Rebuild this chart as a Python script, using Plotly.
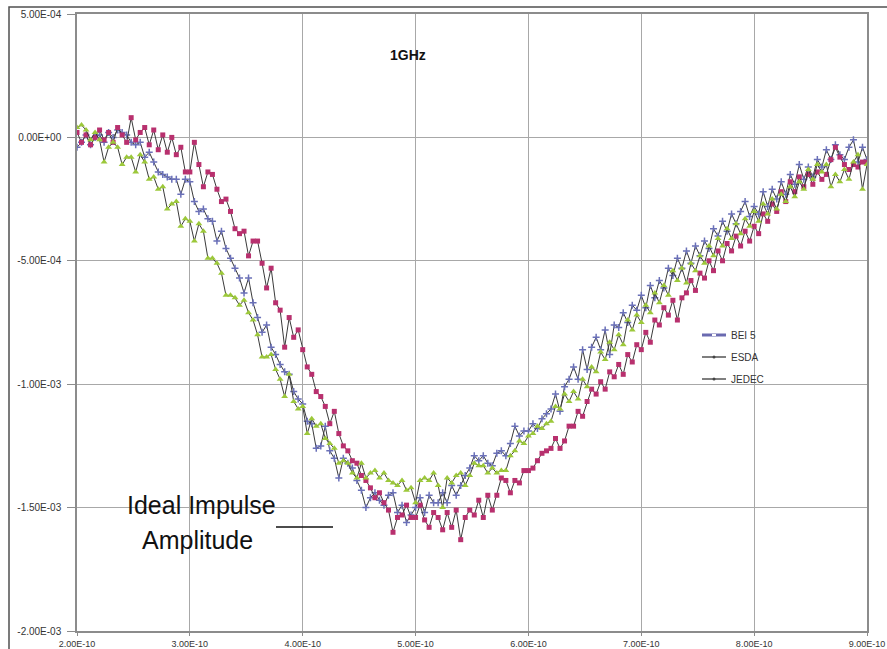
import plotly.graph_objects as go

# ---------------- data ----------------
# sample times in picoseconds (4 ps sampling, 200 ps .. 900 ps)
t_start_ps = 200
t_step_ps = 4
n_samples = 176
time_ps = [t_start_ps + t_step_ps * k for k in range(n_samples)]

# amplitudes in units of 1e-5
bei5 = [
    -4, -2, 1, -3, 0, 1, -2, 2, 0, 3,
    2, 1, -2, -3, -2, -8, -6, -10, -14, -15,
    -16, -17, -17, -23, -17, -18, -26, -30, -29, -33,
    -34, -42, -38, -45, -49, -53, -57, -63, -57, -67,
    -73, -79, -76, -85, -88, -92, -95, -96, -103, -106,
    -108, -115, -116, -126, -125, -117, -127, -130, -138, -130,
    -132, -134, -139, -143, -150, -146, -144, -147, -149, -145,
    -144, -152, -149, -156, -153, -150, -146, -152, -145, -148,
    -148, -144, -148, -141, -145, -141, -137, -134, -129, -131,
    -129, -132, -133, -128, -127, -129, -124, -117, -121, -119,
    -119, -116, -118, -114, -112, -110, -104, -111, -101, -98,
    -93, -98, -86, -94, -85, -81, -86, -78, -88, -76,
    -77, -71, -75, -68, -70, -64, -69, -60, -65, -58,
    -61, -53, -56, -49, -53, -46, -51, -44, -48, -42,
    -45, -37, -40, -34, -38, -31, -35, -30, -26, -32,
    -28, -31, -22, -28, -21, -25, -18, -23, -15, -19,
    -11, -17, -12, -16, -9, -12, -5, -9, -3, -7,
    -9, -4, -1, -10, -4, -9,
]

esda = [
    2, -2, 1, -3, 0, 3, -1, 2, -2, 4,
    1, -2, 8, -1, 2, 4, -3, 3, -5, 1,
    -6, 0, -7, -4, -14, -14, -2, -11, -20, -14,
    -15, -21, -26, -25, -30, -37, -39, -38, -48, -42,
    -42, -51, -61, -53, -67, -70, -85, -73, -81, -78,
    -86, -93, -96, -103, -105, -109, -116, -111, -120, -125,
    -127, -131, -132, -137, -139, -142, -146, -144, -148, -151,
    -160, -154, -153, -149, -154, -154, -149, -155, -158, -152,
    -154, -159, -152, -158, -151, -163, -154, -151, -153, -147,
    -154, -145, -151, -145, -138, -139, -144, -139, -140, -135,
    -135, -134, -131, -128, -127, -126, -122, -126, -123, -117,
    -117, -111, -113, -107, -102, -104, -99, -102, -95, -97,
    -92, -96, -88, -91, -84, -86, -79, -83, -74, -76,
    -69, -72, -66, -74, -65, -63, -58, -62, -55, -57,
    -50, -54, -46, -50, -43, -46, -40, -44, -38, -42,
    -36, -39, -31, -34, -27, -30, -22, -26, -18, -22,
    -16, -20, -15, -19, -14, -17, -15, -9, -4, -8,
    -11, -13, -11, -12, -10, -10,
]

jedec = [
    4, 5, 3, -1, 2, -1, -10, -4, -2, -4,
    -11, -8, -8, -14, -7, -10, -17, -16, -21, -20,
    -29, -27, -26, -36, -33, -34, -42, -35, -38, -49,
    -49, -51, -55, -64, -64, -65, -68, -66, -71, -74,
    -80, -89, -89, -88, -94, -98, -105, -96, -107, -110,
    -109, -120, -114, -117, -116, -122, -124, -126, -132, -131,
    -132, -136, -138, -132, -138, -136, -135, -138, -136, -139,
    -140, -141, -139, -143, -142, -148, -139, -138, -139, -136,
    -141, -150, -138, -140, -137, -136, -141, -137, -132, -133,
    -133, -136, -134, -136, -135, -135, -129, -127, -123, -124,
    -121, -120, -117, -118, -116, -115, -109, -110, -104, -107,
    -103, -106, -98, -101, -93, -95, -87, -90, -83, -86,
    -80, -84, -74, -78, -72, -75, -68, -71, -63, -67,
    -60, -64, -54, -58, -53, -59, -51, -54, -48, -51,
    -44, -48, -41, -44, -37, -41, -35, -39, -33, -36,
    -30, -34, -27, -31, -25, -29, -23, -26, -20, -24,
    -18, -21, -13, -17, -11, -14, -11, -20, -15, -18,
    -13, -17, -10, -7, -21, -11,
]

series_names = ["BEI 5", "ESDA", "JEDEC"]

x_tick_vals = [200, 300, 400, 500, 600, 700, 800, 900]
x_tick_text = ["2.00E-10", "3.00E-10", "4.00E-10", "5.00E-10",
               "6.00E-10", "7.00E-10", "8.00E-10", "9.00E-10"]
y_tick_vals = [50, 0, -50, -100, -150, -200]
y_tick_text = ["5.00E-04", "0.00E+00", "-5.00E-04", "-1.00E-03",
               "-1.50E-03", "-2.00E-03"]

title_text = "1GHz"
note_line1 = "Ideal Impulse"
note_line2 = "Amplitude"

# ---------------- layout geometry ----------------
W, H = 887, 649
ML, MR, MT, MB = 77, 20, 14, 18
PW = W - ML - MR
PH = H - MT - MB


def fx(px):
    return (px - ML) / PW


def fy(py):
    return (H - MB - py) / PH


LINE_COL = "#3a3a3a"
FONT = "Liberation Sans"

fig = go.Figure()

fig.add_trace(go.Scatter(
    x=time_ps, y=bei5, name=series_names[0], mode="lines+markers",
    line=dict(color=LINE_COL, width=1),
    marker=dict(symbol="cross-thin", size=5, color="#6a70b8",
                line=dict(color="#6a70b8", width=1.5)),
))
fig.add_trace(go.Scatter(
    x=time_ps, y=esda, name=series_names[1], mode="lines+markers",
    line=dict(color=LINE_COL, width=1),
    marker=dict(symbol="square", size=5, color="#b8306e"),
))
fig.add_trace(go.Scatter(
    x=time_ps, y=jedec, name=series_names[2], mode="lines+markers",
    line=dict(color=LINE_COL, width=1),
    marker=dict(symbol="triangle-up", size=6, color="#9cc83a"),
))

shapes = []
annotations = []

# outer chart border (extends past the right and bottom edges of the view)
shapes.append(dict(type="rect", xref="paper", yref="paper",
                   x0=fx(9), x1=fx(900), y0=fy(670), y1=fy(7),
                   line=dict(color="#505050", width=1.5), layer="below"))

# short black line next to the note
shapes.append(dict(type="line", xref="paper", yref="paper",
                   x0=fx(276), x1=fx(333), y0=fy(527), y1=fy(527),
                   line=dict(color="#111111", width=1.5)))

# manual legend
leg_x0, leg_x1 = fx(702), fx(726)
leg_rows = [335, 357, 379]
shapes.append(dict(type="line", xref="paper", yref="paper",
                   x0=leg_x0, x1=leg_x1, y0=fy(leg_rows[0]), y1=fy(leg_rows[0]),
                   line=dict(color="#6a6ab0", width=3)))
shapes.append(dict(type="line", xref="paper", yref="paper",
                   x0=fx(712), x1=fx(716), y0=fy(leg_rows[0]), y1=fy(leg_rows[0]),
                   line=dict(color="#ffffff", width=2)))
for r in leg_rows[1:]:
    shapes.append(dict(type="line", xref="paper", yref="paper",
                       x0=leg_x0, x1=leg_x1, y0=fy(r), y1=fy(r),
                       line=dict(color="#555555", width=1.5)))
    shapes.append(dict(type="circle", xref="paper", yref="paper",
                       x0=fx(712.5), x1=fx(715.5), y0=fy(r + 1.5), y1=fy(r - 1.5),
                       fillcolor="#444444", line=dict(color="#444444", width=0)))
for name, r in zip(series_names, leg_rows):
    annotations.append(dict(text=name, xref="paper", yref="paper",
                            x=fx(729), y=fy(r), xanchor="left", yanchor="middle",
                            showarrow=False,
                            font=dict(family=FONT, size=10, color="#333333")))

# title
annotations.append(dict(text="<b>" + title_text + "</b>", xref="paper", yref="paper",
                        x=fx(408), y=fy(55), xanchor="center", yanchor="middle",
                        showarrow=False,
                        font=dict(family=FONT, size=14, color="#111111")))

# note text
annotations.append(dict(text=note_line1, xref="paper", yref="paper",
                        x=fx(201), y=fy(505), xanchor="center", yanchor="middle",
                        showarrow=False,
                        font=dict(family=FONT, size=25, color="#111111")))
annotations.append(dict(text=note_line2, xref="paper", yref="paper",
                        x=fx(197), y=fy(540), xanchor="center", yanchor="middle",
                        showarrow=False,
                        font=dict(family=FONT, size=25, color="#111111")))

fig.update_layout(
    width=W, height=H,
    margin=dict(l=ML, r=MR, t=MT, b=MB, pad=0, autoexpand=False),
    paper_bgcolor="#ffffff", plot_bgcolor="#ffffff",
    showlegend=False,
    shapes=shapes, annotations=annotations,
    font=dict(family=FONT, size=10, color="#333333"),
)
fig.update_xaxes(
    range=[200, 900], tickvals=x_tick_vals, ticktext=x_tick_text,
    automargin=False,
    showgrid=True, gridcolor="#a8a8a8", gridwidth=1,
    showline=True, linecolor="#8c8c8c", linewidth=1.5, mirror=True,
    ticks="outside", ticklen=3, tickcolor="#8c8c8c",
    ticklabelstandoff=0,
    zeroline=False, tickfont=dict(family=FONT, size=9, color="#333333"),
)
fig.update_yaxes(
    range=[-200, 50], tickvals=y_tick_vals, ticktext=y_tick_text,
    automargin=False,
    showgrid=True, gridcolor="#a8a8a8", gridwidth=1,
    showline=True, linecolor="#8c8c8c", linewidth=1.5, mirror=True,
    ticks="outside", ticklen=8, tickcolor="#8c8c8c",
    ticklabelstandoff=4,
    zeroline=False, tickfont=dict(family=FONT, size=10, color="#333333"),
)

fig.write_html("out.html", config={"displayModeBar": False})
